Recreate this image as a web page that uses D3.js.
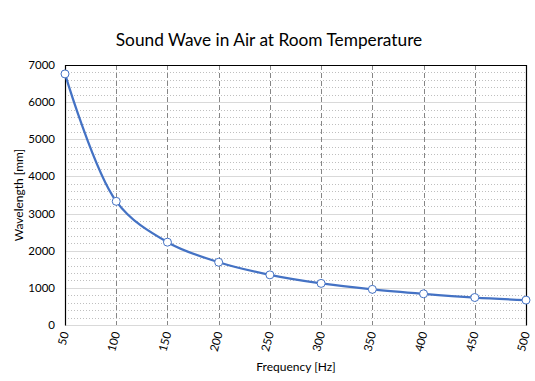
<!DOCTYPE html>
<html><head><meta charset="utf-8">
<script src="https://cdn.jsdelivr.net/npm/d3@7"></script>
<style>body{margin:0;background:#fff}svg{display:block}text{font-family:Lato,"Open Sans",sans-serif}</style>
</head><body><svg id="c" width="535" height="381"></svg>
<script>
const frequencies = [50,100,150,200,250,300,350,400,450,500];
const wavelengths = [6760,3330,2230,1690,1350,1120,960,840,740,670];
const yTicks = [0,1000,2000,3000,4000,5000,6000,7000];
const title = "Sound Wave in Air at Room Temperature";
const xTitle = "Frequency [Hz]";
const yTitle = "Wavelength [mm]";

const svg = d3.select("#c");
const L=65,R=526,T=65,B=325;
const x = d3.scaleLinear().domain([50,500]).range([L,R]);
const y = d3.scaleLinear().domain([0,7000]).range([B,T]);

// minor gridlines
const minor = d3.range(200,7000,200).filter(v=>v%1000!==0);
svg.append("g").selectAll("line").data(minor).join("line")
  .attr("x1",L).attr("x2",R).attr("y1",d=>Math.round(y(d))+0.5).attr("y2",d=>Math.round(y(d))+0.5)
  .attr("stroke","#bfbfbf").attr("stroke-width",1).attr("stroke-dasharray","1,2");
// major gridlines
svg.append("g").selectAll("line").data(yTicks.slice(0,-1)).join("line")
  .attr("x1",L).attr("x2",R).attr("y1",d=>Math.round(y(d))+0.5).attr("y2",d=>Math.round(y(d))+0.5)
  .attr("stroke","#d9d9d9").attr("stroke-width",1);
// vertical gridlines
svg.append("g").selectAll("line").data(frequencies.slice(1,-1)).join("line")
  .attr("x1",d=>Math.round(x(d))+0.5).attr("x2",d=>Math.round(x(d))+0.5).attr("y1",T).attr("y2",B)
  .attr("stroke","#868686").attr("stroke-width",1).attr("stroke-dasharray","5,3");
// frame: left, top, right
svg.append("path").attr("d",`M${L+0.5},${B+0.5}V${T+0.5}H${R+0.5}V${B+0.5}`)
  .attr("fill","none").attr("stroke","#000").attr("stroke-width",1.2);

// y tick labels
svg.append("g").selectAll("text").data(yTicks).join("text")
  .attr("x",L-10).attr("y",d=>y(d)).attr("dy","0.35em").attr("text-anchor","end")
  .attr("font-size",11.5).attr("fill","#000").text(d=>d);
// x tick labels
svg.append("g").selectAll("text").data(frequencies).join("text")
  .attr("transform",d=>`translate(${x(d)+4},${B+8}) rotate(-75)`)
  .attr("text-anchor","end").attr("font-size",11.5).attr("fill","#000").text(d=>d);

// line
const line = d3.line().x((d,i)=>x(frequencies[i])).y(d=>y(d)).curve(d3.curveCatmullRom.alpha(0.5));
svg.append("path").datum(wavelengths).attr("d",line).attr("fill","none")
  .attr("stroke","#4472c4").attr("stroke-width",2.25);
svg.append("g").selectAll("circle").data(wavelengths).join("circle")
  .attr("cx",(d,i)=>x(frequencies[i])).attr("cy",d=>y(d)).attr("r",4)
  .attr("fill","#fff").attr("stroke","#4472c4").attr("stroke-width",1);

// titles
svg.append("text").attr("x",269).attr("y",46).attr("text-anchor","middle")
  .attr("font-size",17.3).attr("fill","#000").text(title);
svg.append("text").attr("x",296).attr("y",371).attr("text-anchor","middle")
  .attr("font-size",12).attr("fill","#000").text(xTitle);
svg.append("text").attr("transform","translate(23,195) rotate(-90)").attr("text-anchor","middle")
  .attr("font-size",12).attr("fill","#000").text(yTitle);
</script></body></html>
